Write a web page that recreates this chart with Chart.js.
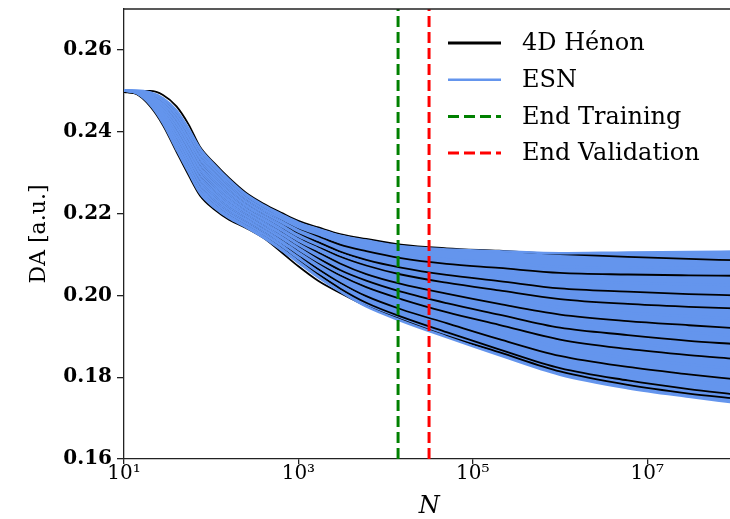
<!DOCTYPE html>
<html>
<head>
<meta charset="utf-8">
<script src="https://cdn.jsdelivr.net/npm/chart.js@4.4.0/dist/chart.umd.min.js"></script>
<style>
  html, body { margin: 0; padding: 0; background: #fff; overflow: hidden; }
  #wrap { width: 730px; height: 519px; overflow: hidden; position: relative; }
  #chart { position: absolute; left: 0; top: 0; }
</style>
</head>
<body>
<div id="wrap"><canvas id="chart" width="740" height="519"></canvas></div>
<script>
// sample sizes N where the curves were read
const nValues = [10, 14, 20, 28, 40, 55, 75, 110, 160, 250, 400, 650, 1000, 1700, 3000, 6000, 15000, 50000, 200000, 1e6, 6e6, 3e7, 1e8];

// DA of the 4D Henon map runs (black)
const henonCurves = [
  [0.2497, 0.2500, 0.2500, 0.2490, 0.2462, 0.2418, 0.2362, 0.2322, 0.2287, 0.2251, 0.2224, 0.2201, 0.2182, 0.2166, 0.2150, 0.2138, 0.2124, 0.2115, 0.2109, 0.2101, 0.2094, 0.2089, 0.2086],
  [0.2497, 0.2498, 0.2493, 0.2475, 0.2441, 0.2395, 0.2346, 0.2306, 0.2273, 0.2238, 0.2211, 0.2186, 0.2165, 0.2145, 0.2124, 0.2108, 0.2091, 0.2077, 0.2067, 0.2055, 0.2051, 0.2049, 0.2048],
  [0.2497, 0.2498, 0.2489, 0.2468, 0.2431, 0.2383, 0.2334, 0.2295, 0.2262, 0.2229, 0.2202, 0.2177, 0.2153, 0.2130, 0.2107, 0.2087, 0.2068, 0.2050, 0.2035, 0.2017, 0.2009, 0.2003, 0.2000],
  [0.2497, 0.2497, 0.2486, 0.2462, 0.2420, 0.2372, 0.2322, 0.2283, 0.2252, 0.2220, 0.2194, 0.2167, 0.2143, 0.2119, 0.2095, 0.2073, 0.2051, 0.2031, 0.2012, 0.1991, 0.1979, 0.1972, 0.1968],
  [0.2497, 0.2496, 0.2483, 0.2455, 0.2410, 0.2360, 0.2310, 0.2272, 0.2241, 0.2211, 0.2185, 0.2157, 0.2132, 0.2105, 0.2078, 0.2052, 0.2028, 0.2004, 0.1979, 0.1953, 0.1937, 0.1927, 0.1920],
  [0.2497, 0.2496, 0.2479, 0.2448, 0.2399, 0.2348, 0.2297, 0.2260, 0.2231, 0.2203, 0.2176, 0.2148, 0.2122, 0.2091, 0.2062, 0.2036, 0.2009, 0.1981, 0.1953, 0.1921, 0.1903, 0.1889, 0.1881],
  [0.2497, 0.2495, 0.2476, 0.2441, 0.2389, 0.2336, 0.2285, 0.2249, 0.2220, 0.2194, 0.2167, 0.2138, 0.2111, 0.2079, 0.2049, 0.2020, 0.1991, 0.1959, 0.1928, 0.1892, 0.1869, 0.1854, 0.1845],
  [0.2497, 0.2494, 0.2473, 0.2435, 0.2378, 0.2325, 0.2273, 0.2237, 0.2210, 0.2185, 0.2159, 0.2128, 0.2099, 0.2064, 0.2031, 0.1998, 0.1966, 0.1932, 0.1893, 0.1852, 0.1825, 0.1807, 0.1795],
  [0.2497, 0.2494, 0.2469, 0.2428, 0.2368, 0.2313, 0.2261, 0.2226, 0.2200, 0.2176, 0.2150, 0.2119, 0.2089, 0.2052, 0.2017, 0.1982, 0.1948, 0.1910, 0.1868, 0.1822, 0.1792, 0.1771, 0.1758],
  [0.2497, 0.2492, 0.2462, 0.2416, 0.2351, 0.2294, 0.2243, 0.2209, 0.2185, 0.2165, 0.2140, 0.2104, 0.2071, 0.2035, 0.2006, 0.1974, 0.1941, 0.1901, 0.1861, 0.1814, 0.1781, 0.1760, 0.1748]
];

// DA of the ESN predictions (blue), top curve first, bottom curve last
const esnCurves = [
  [0.2501, 0.2501, 0.2496, 0.2482, 0.2452, 0.2407, 0.2358, 0.2318, 0.2283, 0.2247, 0.2220, 0.2197, 0.2178, 0.2162, 0.2146, 0.2134, 0.2120, 0.2112, 0.2108, 0.2103, 0.2105, 0.2106, 0.2107],
  [0.2501, 0.2499, 0.2493, 0.2475, 0.2441, 0.2395, 0.2346, 0.2306, 0.2273, 0.2238, 0.2211, 0.2187, 0.2167, 0.2149, 0.2131, 0.2116, 0.2100, 0.2088, 0.2080, 0.2070, 0.2068, 0.2067, 0.2066],
  [0.2501, 0.2499, 0.2489, 0.2468, 0.2431, 0.2383, 0.2334, 0.2295, 0.2262, 0.2229, 0.2202, 0.2178, 0.2156, 0.2136, 0.2116, 0.2098, 0.2080, 0.2064, 0.2052, 0.2037, 0.2031, 0.2027, 0.2025],
  [0.2501, 0.2498, 0.2486, 0.2462, 0.2420, 0.2372, 0.2322, 0.2283, 0.2252, 0.2220, 0.2194, 0.2168, 0.2145, 0.2123, 0.2101, 0.2080, 0.2059, 0.2041, 0.2023, 0.2004, 0.1994, 0.1988, 0.1984],
  [0.2501, 0.2497, 0.2483, 0.2455, 0.2410, 0.2360, 0.2310, 0.2272, 0.2241, 0.2211, 0.2185, 0.2158, 0.2134, 0.2110, 0.2086, 0.2062, 0.2039, 0.2017, 0.1995, 0.1971, 0.1957, 0.1949, 0.1943],
  [0.2501, 0.2497, 0.2479, 0.2448, 0.2399, 0.2348, 0.2297, 0.2260, 0.2231, 0.2203, 0.2176, 0.2149, 0.2124, 0.2096, 0.2070, 0.2045, 0.2019, 0.1993, 0.1967, 0.1938, 0.1921, 0.1909, 0.1902],
  [0.2501, 0.2496, 0.2476, 0.2441, 0.2389, 0.2336, 0.2285, 0.2249, 0.2220, 0.2194, 0.2167, 0.2139, 0.2113, 0.2083, 0.2055, 0.2027, 0.1999, 0.1969, 0.1939, 0.1905, 0.1884, 0.1870, 0.1861],
  [0.2501, 0.2495, 0.2473, 0.2435, 0.2378, 0.2325, 0.2273, 0.2237, 0.2210, 0.2185, 0.2159, 0.2129, 0.2102, 0.2070, 0.2040, 0.2009, 0.1978, 0.1946, 0.1910, 0.1872, 0.1847, 0.1831, 0.1820],
  [0.2501, 0.2495, 0.2469, 0.2428, 0.2368, 0.2313, 0.2261, 0.2226, 0.2200, 0.2176, 0.2150, 0.2120, 0.2091, 0.2057, 0.2025, 0.1991, 0.1958, 0.1922, 0.1882, 0.1839, 0.1810, 0.1791, 0.1779],
  [0.2501, 0.2494, 0.2466, 0.2421, 0.2357, 0.2301, 0.2249, 0.2214, 0.2189, 0.2167, 0.2141, 0.2110, 0.2080, 0.2044, 0.2010, 0.1973, 0.1938, 0.1898, 0.1854, 0.1806, 0.1773, 0.1752, 0.1738]
];

const endTraining = 13900;
const endValidation = 31500;

const xTickValues = [10, 1e3, 1e5, 1e7];
const xTickLabels = ['10\u00b9', '10\u00b3', '10\u2075', '10\u2077'];
const yTickValues = [0.16, 0.18, 0.20, 0.22, 0.24, 0.26];
const yMin = 0.16, yMax = 0.27;
const xMin = 10, xMax = 1e8;

const legendLabels = ['4D H\u00e9non', 'ESN', 'End Training', 'End Validation'];

const BLUE = '#6495ED';
const SERIF = '"DejaVu Serif", "Liberation Serif", serif';

function toPoints(values) {
    return values.map((v, i) => ({ x: nValues[i], y: v }));
}

// no extra room for the end labels, the plot box is fixed
function noLabelPadding(s) {
    s.paddingTop = 0;
    s.paddingBottom = 0;
    s.paddingLeft = 0;
    s.paddingRight = 0;
}

// first dataset in the list is drawn on top
const datasets = [];
datasets.push({
    data: [{ x: endTraining, y: yMin }, { x: endTraining, y: yMax }],
    borderColor: 'green', borderWidth: 3, borderDash: [11, 5], pointRadius: 0
});
datasets.push({
    data: [{ x: endValidation, y: yMin }, { x: endValidation, y: yMax }],
    borderColor: 'red', borderWidth: 3, borderDash: [11, 5], pointRadius: 0
});
esnCurves.forEach((c, i) => {
    datasets.push({
        data: toPoints(c),
        borderColor: BLUE,
        backgroundColor: BLUE,
        borderWidth: 2.5,
        pointRadius: 0,
        cubicInterpolationMode: 'monotone',
        fill: i === 0 ? '+' + (esnCurves.length - 1) : false
    });
});
henonCurves.forEach(c => {
    datasets.push({
        data: toPoints(c),
        borderColor: '#000',
        borderWidth: 1.8,
        pointRadius: 0,
        cubicInterpolationMode: 'monotone',
        fill: false
    });
});

const frameAndLegend = {
    id: 'frameAndLegend',
    afterDraw(chart) {
        const { ctx, chartArea } = chart;
        ctx.save();
        // top spine
        ctx.strokeStyle = '#222';
        ctx.lineWidth = 1.3;
        ctx.beginPath();
        ctx.moveTo(chartArea.left, chartArea.top);
        ctx.lineTo(chart.width, chartArea.top);
        ctx.stroke();

        const styles = [
            { color: '#000', width: 3, dash: [] },
            { color: BLUE, width: 2.5, dash: [] },
            { color: 'green', width: 3, dash: [11, 5] },
            { color: 'red', width: 3, dash: [11, 5] }
        ];
        const x0 = chartArea.left + 324;
        const y0 = chartArea.top + 34;
        ctx.font = '24px ' + SERIF;
        ctx.textBaseline = 'middle';
        ctx.textAlign = 'left';
        legendLabels.forEach((label, i) => {
            const y = y0 + i * 36.7;
            const s = styles[i];
            ctx.beginPath();
            ctx.setLineDash(s.dash);
            ctx.lineWidth = s.width;
            ctx.strokeStyle = s.color;
            ctx.moveTo(x0, y);
            ctx.lineTo(x0 + 53, y);
            ctx.stroke();
            ctx.setLineDash([]);
            ctx.fillStyle = '#000';
            ctx.fillText(label, x0 + 74, y + 1);
        });
        ctx.restore();
    }
};

new Chart(document.getElementById('chart'), {
    type: 'line',
    data: { datasets: datasets },
    options: {
        responsive: false,
        animation: false,
        layout: { padding: { top: 9, right: 5.6, left: 0, bottom: 0 } },
        plugins: {
            legend: { display: false },
            tooltip: { enabled: false },
            filler: { drawTime: 'beforeDatasetsDraw' }
        },
        scales: {
            x: {
                type: 'logarithmic',
                min: xMin,
                max: xMax,
                afterBuildTicks: s => { s.ticks = xTickValues.map(v => ({ value: v })); },
                afterFit: s => { s.height = 60; noLabelPadding(s); },
                border: { display: true, color: '#222', width: 1.3 },
                grid: { drawOnChartArea: false, drawTicks: true, tickLength: 5, color: '#222', lineWidth: 1.3 },
                ticks: {
                    autoSkip: false,
                    maxRotation: 0,
                    padding: 0,
                    color: '#000',
                    font: { family: SERIF, size: 20, lineHeight: 1 },
                    callback: v => xTickLabels[xTickValues.indexOf(v)]
                },
                title: {
                    display: true,
                    text: 'N',
                    color: '#000',
                    padding: { top: 0, bottom: 0 },
                    font: { family: SERIF, size: 24, style: 'italic', lineHeight: 1 }
                }
            },
            y: {
                type: 'linear',
                min: yMin,
                max: yMax,
                afterBuildTicks: s => { s.ticks = yTickValues.map(v => ({ value: v })); },
                afterFit: s => { s.width = 124; noLabelPadding(s); },
                border: { display: true, color: '#222', width: 1.3 },
                grid: { drawOnChartArea: false, drawTicks: true, tickLength: 7, color: '#222', lineWidth: 1.3 },
                ticks: {
                    padding: 5,
                    color: '#000',
                    font: { family: SERIF, size: 20, weight: 'bold' },
                    callback: v => v.toFixed(2)
                },
                title: {
                    display: true,
                    text: 'DA [a.u.]',
                    color: '#000',
                    padding: { top: 26, bottom: 0 },
                    font: { family: SERIF, size: 22 }
                }
            }
        }
    },
    plugins: [frameAndLegend]
});
</script>
</body>
</html>
